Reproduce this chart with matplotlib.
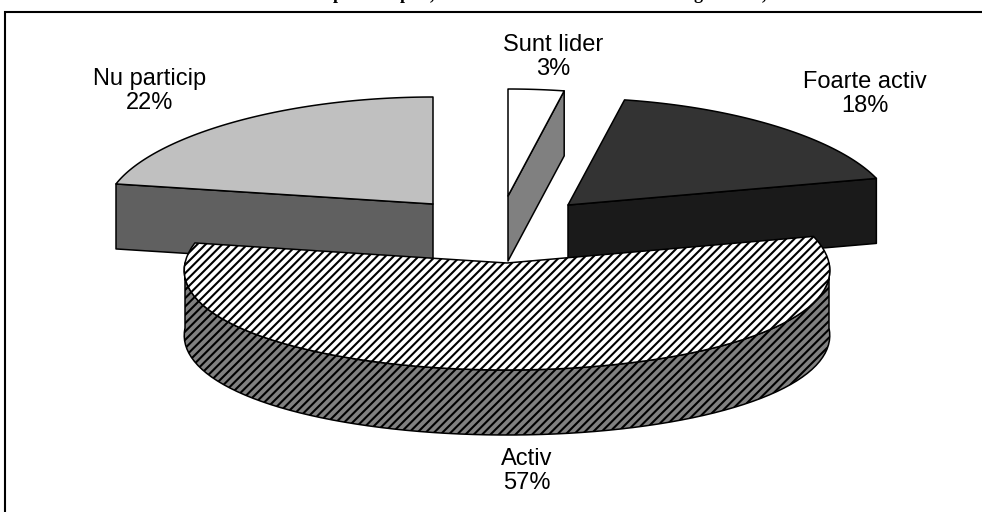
import numpy as np
import matplotlib
matplotlib.use("Agg")
import matplotlib.pyplot as plt
from matplotlib.patches import Polygon

plt.rcParams['font.family'] = ['Liberation Sans', 'DejaVu Sans']
plt.rcParams['hatch.linewidth'] = 1.5

# order is clockwise from 12 o'clock, as in the source chart
labels = ['Sunt lider', 'Foarte activ', 'Activ', 'Nu particip']
values = [3, 18, 57, 22]

top_colors = ['white', '#333333', 'white', '#c0c0c0']
side_colors = ['#808080', '#1a1a1a', '#808080', '#606060']
hatches = [None, None, '////', None]

# wedge tip and horizontal radius in pixels of the 982x512 picture
tips = [(508, 196), (568, 205), (507, 263), (433, 204)]
radii = [322, 324, 322, 327]
label_pos = [(553, 57), (865, 94), (527, 471), (150, 91)]

RY = 107
DEPTH = 65
PERSP = 0.07

# only the descenders of the cut off title survive at the top of the picture
title_bits = ['p', 'p', ',', 'g', ',']
title_x = [338, 405, 432, 698, 764]


def rim(tip, rx, a0, a1, n=80):
    """Points on the pie rim between two angles (radians, clockwise from top)."""
    t = np.linspace(a0, a1, n)
    x = tip[0] + rx * np.sin(t) * (1 - PERSP * np.cos(t))
    y = tip[1] - RY * np.cos(t)
    return np.column_stack([x, y])


def draw_slice(ax, i, a0, a1):
    tip = np.array(tips[i], dtype=float)
    drop = np.array([0, DEPTH])
    kw = dict(edgecolor='black', linewidth=1.1, joinstyle='round')
    pts = rim(tip, radii[i], a0, a1)
    if hatches[i]:
        # front wall, only the part of the rim facing the viewer
        wall = rim(tip, radii[i], max(a0, np.pi / 2), min(a1, 3 * np.pi / 2))
        ax.add_patch(Polygon(np.vstack([wall, (wall + drop)[::-1]]),
                             facecolor=side_colors[i], hatch=hatches[i], **kw))
    elif a1 - a0 < np.pi / 2 and a0 < np.pi / 2:
        # cut face on the closing radius
        ax.add_patch(Polygon([tip, pts[-1], pts[-1] + drop, tip + drop],
                             facecolor=side_colors[i], **kw))
    else:
        # cut face on the opening radius
        ax.add_patch(Polygon([tip, pts[0], pts[0] + drop, tip + drop],
                             facecolor=side_colors[i], **kw))
    ax.add_patch(Polygon(np.vstack([tip, pts]), facecolor=top_colors[i],
                         hatch=hatches[i], **kw))


fig = plt.figure(figsize=(9.82, 5.12), dpi=100)
ax = fig.add_axes([0, 0, 1, 1])
ax.set_xlim(0, 982)
ax.set_ylim(512, 0)
ax.axis('off')

edges = np.cumsum([0] + values) / sum(values) * 2 * np.pi

# back slices first, the big front slice covers them
for i in [3, 1, 0, 2]:
    draw_slice(ax, i, edges[i], edges[i + 1])

for i, lab in enumerate(labels):
    ax.text(label_pos[i][0], label_pos[i][1], f'{lab}\n{values[i]}%', ha='center', va='center',
            fontsize=17, color='black', linespacing=1.15)

for x, s in zip(title_x, title_bits):
    ax.text(x, -1, s, ha='center', va='baseline', fontsize=13, fontweight='bold',
            family='Liberation Serif', clip_on=False)

# picture frame, only top and left show
ax.plot([982, 5.5, 5.5], [11.5, 11.5, 512], color='black', lw=1.5, solid_joinstyle='miter')

fig.savefig('out.png', dpi=100)
